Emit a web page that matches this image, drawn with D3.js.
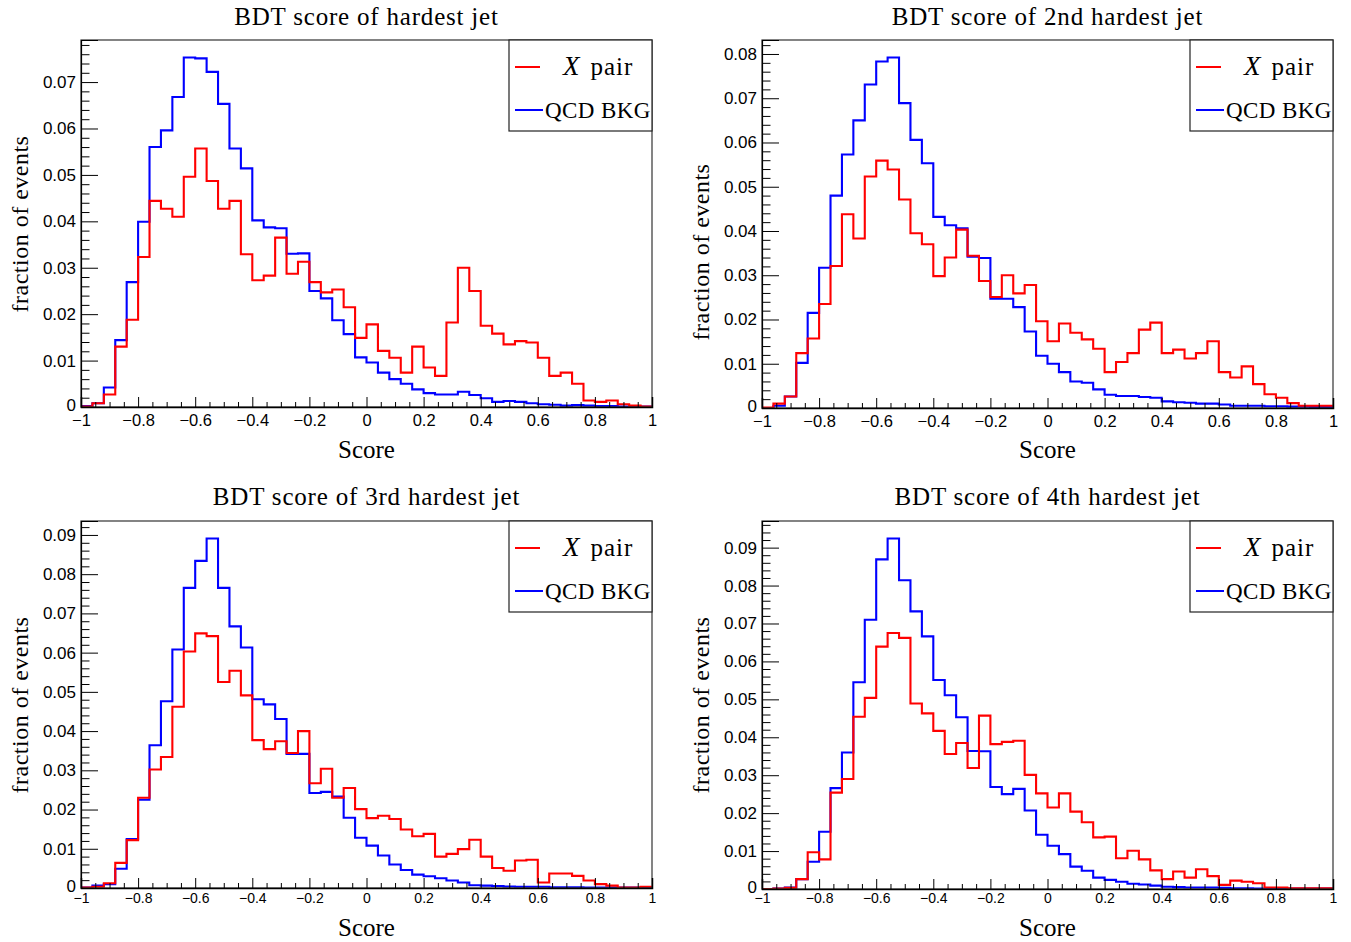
<!DOCTYPE html>
<html>
<head>
<meta charset="utf-8">
<script src="https://cdn.jsdelivr.net/npm/d3@7"></script>
<style>
  body { margin: 0; background: #fff; }
  svg { display: block; }
</style>
</head>
<body>
<svg id="chart" width="1351" height="942"></svg>
<script>
// ---- Data: BDT score histograms, 50 bins over [-1, 1], normalised to unit area ----
const binCount = 50;
const scoreRange = [-1, 1];
const xMajorTicks = [-1, -0.8, -0.6, -0.4, -0.2, 0, 0.2, 0.4, 0.6, 0.8, 1];
const seriesLabels = ["pair", "QCD BKG"];
const panelTitles = [
  "BDT score of hardest jet",
  "BDT score of 2nd hardest jet",
  "BDT score of 3rd hardest jet",
  "BDT score of 4th hardest jet"
];
const xAxisTitle = "Score";
const yAxisTitle = "fraction of events";

const xPairJet1 = [
  0.0001, 0.0008, 0.0027, 0.0130, 0.0188, 0.0323, 0.0444, 0.0427, 0.0410, 0.0496,
  0.0557, 0.0487, 0.0427, 0.0444, 0.0329, 0.0273, 0.0283, 0.0365, 0.0287, 0.0313,
  0.0269, 0.0247, 0.0253, 0.0215, 0.0149, 0.0178, 0.0121, 0.0106, 0.0074, 0.0130,
  0.0085, 0.0067, 0.0182, 0.0300, 0.0250, 0.0175, 0.0158, 0.0135, 0.0142, 0.0139,
  0.0106, 0.0067, 0.0074, 0.0050, 0.0014, 0.0011, 0.0014, 0.0006, 0.0003, 0.0001
];
const qcdJet1 = [
  0.0002, 0.0008, 0.0042, 0.0144, 0.0269, 0.0399, 0.0560, 0.0596, 0.0668, 0.0753,
  0.0751, 0.0722, 0.0653, 0.0557, 0.0514, 0.0402, 0.0387, 0.0385, 0.0330, 0.0331,
  0.0250, 0.0234, 0.0187, 0.0157, 0.0107, 0.0096, 0.0074, 0.0060, 0.0050, 0.0038,
  0.0030, 0.0027, 0.0027, 0.0033, 0.0026, 0.0019, 0.0011, 0.0013, 0.0011, 0.0008,
  0.0006, 0.0005, 0.0003, 0.0004, 0.0003, 0.0002, 0.0002, 0.0001, 0.0001, 0.0001
];

const xPairJet2 = [
  0.0001, 0.0010, 0.0026, 0.0124, 0.0157, 0.0235, 0.0321, 0.0438, 0.0383, 0.0523,
  0.0559, 0.0539, 0.0471, 0.0395, 0.0370, 0.0298, 0.0340, 0.0403, 0.0344, 0.0287,
  0.0251, 0.0300, 0.0259, 0.0278, 0.0196, 0.0151, 0.0191, 0.0170, 0.0155, 0.0134,
  0.0081, 0.0104, 0.0124, 0.0177, 0.0193, 0.0124, 0.0132, 0.0112, 0.0124, 0.0151,
  0.0081, 0.0069, 0.0094, 0.0054, 0.0031, 0.0023, 0.0011, 0.0005, 0.0005, 0.0005
];
const qcdJet2 = [
  0.0000, 0.0005, 0.0026, 0.0102, 0.0215, 0.0317, 0.0480, 0.0573, 0.0650, 0.0731,
  0.0783, 0.0792, 0.0689, 0.0606, 0.0553, 0.0432, 0.0413, 0.0406, 0.0342, 0.0339,
  0.0247, 0.0247, 0.0228, 0.0173, 0.0118, 0.0100, 0.0081, 0.0060, 0.0057, 0.0042,
  0.0030, 0.0027, 0.0027, 0.0025, 0.0023, 0.0015, 0.0013, 0.0012, 0.0010, 0.0010,
  0.0008, 0.0005, 0.0005, 0.0005, 0.0004, 0.0004, 0.0003, 0.0003, 0.0002, 0.0002
];

const xPairJet3 = [
  0.0001, 0.0003, 0.0012, 0.0064, 0.0122, 0.0230, 0.0302, 0.0334, 0.0462, 0.0603,
  0.0649, 0.0642, 0.0525, 0.0554, 0.0491, 0.0377, 0.0354, 0.0374, 0.0344, 0.0400,
  0.0267, 0.0304, 0.0230, 0.0255, 0.0201, 0.0178, 0.0184, 0.0176, 0.0149, 0.0132,
  0.0138, 0.0080, 0.0087, 0.0099, 0.0123, 0.0080, 0.0051, 0.0044, 0.0070, 0.0072,
  0.0014, 0.0037, 0.0037, 0.0031, 0.0019, 0.0010, 0.0006, 0.0001, 0.0001, 0.0003
];
const qcdJet3 = [
  0.0001, 0.0006, 0.0010, 0.0049, 0.0125, 0.0225, 0.0364, 0.0476, 0.0608, 0.0765,
  0.0834, 0.0891, 0.0765, 0.0667, 0.0613, 0.0481, 0.0468, 0.0431, 0.0342, 0.0342,
  0.0242, 0.0245, 0.0233, 0.0179, 0.0128, 0.0108, 0.0083, 0.0060, 0.0046, 0.0034,
  0.0030, 0.0025, 0.0019, 0.0014, 0.0007, 0.0006, 0.0005, 0.0004, 0.0003, 0.0003,
  0.0003, 0.0002, 0.0002, 0.0002, 0.0001, 0.0001, 0.0001, 0.0001, 0.0001, 0.0001
];

const xPairJet4 = [
  0.0000, 0.0001, 0.0003, 0.0026, 0.0097, 0.0078, 0.0254, 0.0290, 0.0454, 0.0504,
  0.0639, 0.0675, 0.0662, 0.0489, 0.0463, 0.0417, 0.0356, 0.0385, 0.0319, 0.0457,
  0.0382, 0.0388, 0.0391, 0.0301, 0.0252, 0.0215, 0.0252, 0.0204, 0.0176, 0.0136,
  0.0138, 0.0081, 0.0101, 0.0078, 0.0049, 0.0026, 0.0046, 0.0030, 0.0052, 0.0034,
  0.0011, 0.0022, 0.0019, 0.0015, 0.0004, 0.0004, 0.0002, 0.0002, 0.0002, 0.0002
];
const qcdJet4 = [
  0.0000, 0.0001, 0.0004, 0.0026, 0.0072, 0.0151, 0.0266, 0.0360, 0.0545, 0.0710,
  0.0869, 0.0924, 0.0814, 0.0732, 0.0666, 0.0551, 0.0511, 0.0453, 0.0364, 0.0363,
  0.0269, 0.0250, 0.0264, 0.0207, 0.0143, 0.0114, 0.0092, 0.0059, 0.0048, 0.0030,
  0.0024, 0.0019, 0.0014, 0.0012, 0.0009, 0.0006, 0.0005, 0.0004, 0.0004, 0.0004,
  0.0003, 0.0002, 0.0002, 0.0001, 0.0001, 0.0001, 0.0001, 0.0001, 0.0001, 0.0001
];

const signalSeries = [xPairJet1, xPairJet2, xPairJet3, xPairJet4];
const backgroundSeries = [qcdJet1, qcdJet2, qcdJet3, qcdJet4];

// ---- Layout (pixel frames of the four pads) ----
const frames = [
  { left: 81,  right: 652,  top: 40,  bottom: 407, xTickFont: 16.5, yTitleY: 224, titleDy: -15, xTitleDy: 51, xLabelDy: 7 },
  { left: 762, right: 1333, top: 40,  bottom: 408, xTickFont: 16.5, yTitleY: 252, titleDy: -15, xTitleDy: 50, xLabelDy: 7 },
  { left: 81,  right: 652,  top: 521, bottom: 888, xTickFont: 14, yTitleY: 705, titleDy: -16, xTitleDy: 48, xLabelDy: 5 },
  { left: 762, right: 1333, top: 521, bottom: 889, xTickFont: 14, yTitleY: 705, titleDy: -16, xTitleDy: 47, xLabelDy: 4 }
];

const RED = "#ff0000";
const BLUE = "#0000ff";
const SERIF = "'Liberation Serif', 'Times New Roman', serif";
const SANS = "'Liberation Sans', Arial, Helvetica, sans-serif";

const svg = d3.select("#chart");
svg.append("rect").attr("width", 1351).attr("height", 942).attr("fill", "#fff");

const binWidth = (scoreRange[1] - scoreRange[0]) / binCount;
const binEdges = d3.range(binCount + 1).map(i => scoreRange[0] + i * binWidth);

function stepPoints(values) {
  const pts = values.map((v, i) => [binEdges[i], v]);
  pts.push([binEdges[binCount], values[binCount - 1]]);
  return pts;
}

frames.forEach((f, p) => {
  const sig = signalSeries[p];
  const bkg = backgroundSeries[p];
  const yMax = 1.05 * d3.max([d3.max(sig), d3.max(bkg)]);

  const x = d3.scaleLinear().domain(scoreRange).range([f.left, f.right]);
  const y = d3.scaleLinear().domain([0, yMax]).range([f.bottom, f.top]);

  const g = svg.append("g");

  // histograms
  const line = d3.line()
    .x(d => x(d[0]))
    .y(d => y(d[1]))
    .curve(d3.curveStepAfter);

  g.append("path")
    .datum(stepPoints(bkg))
    .attr("d", line)
    .attr("fill", "none")
    .attr("stroke", BLUE)
    .attr("stroke-width", 2.1);

  g.append("path")
    .datum(stepPoints(sig))
    .attr("d", line)
    .attr("fill", "none")
    .attr("stroke", RED)
    .attr("stroke-width", 2.1);

  // frame
  g.append("rect")
    .attr("x", f.left).attr("y", f.top)
    .attr("width", f.right - f.left).attr("height", f.bottom - f.top)
    .attr("fill", "none").attr("stroke", "#333").attr("stroke-width", 1.2);

  // x axis: major ticks with labels, minor ticks every 0.05
  const xFmt = d3.format(".1~f");
  const xAxis = g.append("g")
    .attr("transform", `translate(0,${f.bottom})`)
    .call(d3.axisBottom(x).tickValues(xMajorTicks).tickSize(-10).tickPadding(f.xLabelDy).tickFormat(xFmt));
  xAxis.select(".domain").attr("stroke", "#000").attr("stroke-width", 1.5);
  xAxis.selectAll(".tick line").attr("stroke", "#000");
  xAxis.selectAll(".tick text")
    .attr("font-family", SANS).attr("font-size", f.xTickFont).attr("fill", "#000");

  const xMinor = d3.range(-1, 1.0001, 0.05).filter(v => Math.abs(Math.round(v * 5) - v * 5) > 1e-6);
  g.append("g")
    .attr("transform", `translate(0,${f.bottom})`)
    .call(d3.axisBottom(x).tickValues(xMinor).tickSize(-5).tickFormat(""))
    .call(s => s.select(".domain").remove())
    .selectAll(".tick line").attr("stroke", "#000");

  // y axis: major ticks every 0.01, minor every 0.002
  const yMajor = d3.range(0, yMax + 1e-9, 0.01).map(v => +v.toFixed(2));
  const yFmt = v => v === 0 ? "0" : d3.format(".2f")(v);
  const yAxis = g.append("g")
    .attr("transform", `translate(${f.left},0)`)
    .call(d3.axisLeft(y).tickValues(yMajor).tickSize(-17).tickPadding(5).tickFormat(yFmt));
  yAxis.select(".domain").attr("stroke", "#000").attr("stroke-width", 1.2);
  yAxis.selectAll(".tick line").attr("stroke", "#000");
  yAxis.selectAll(".tick text")
    .attr("font-family", SANS).attr("font-size", 17).attr("fill", "#000");
  // lift the zero label slightly so it clears the first x label
  yAxis.selectAll(".tick text").filter(d => d === 0).attr("dy", "0.2em");

  const yMinor = d3.range(0, yMax, 0.002)
    .map(v => +v.toFixed(3))
    .filter(v => Math.abs(Math.round(v * 100) - v * 100) > 1e-6);
  g.append("g")
    .attr("transform", `translate(${f.left},0)`)
    .call(d3.axisLeft(y).tickValues(yMinor).tickSize(-8.5).tickFormat(""))
    .call(s => s.select(".domain").remove())
    .selectAll(".tick line").attr("stroke", "#000");

  // titles
  const cx = (f.left + f.right) / 2;
  g.append("text")
    .attr("x", cx).attr("y", f.top + f.titleDy)
    .attr("text-anchor", "middle")
    .attr("font-family", SERIF).attr("font-size", 25)
    .attr("letter-spacing", "0.8px")
    .text(panelTitles[p]);

  g.append("text")
    .attr("x", cx).attr("y", f.bottom + f.xTitleDy)
    .attr("text-anchor", "middle")
    .attr("font-family", SERIF).attr("font-size", 25)
    .text(xAxisTitle);

  g.append("text")
    .attr("transform", `translate(${f.left - 53},${f.yTitleY}) rotate(-90)`)
    .attr("text-anchor", "middle")
    .attr("font-family", SERIF).attr("font-size", 24)
    .attr("letter-spacing", "0.5px")
    .text(yAxisTitle);

  // legend
  const boxW = 143, boxH = 91;
  const bx = f.right - boxW, by = f.top;
  const lg = g.append("g");
  lg.append("rect")
    .attr("x", bx).attr("y", by).attr("width", boxW).attr("height", boxH)
    .attr("fill", "#fff").attr("stroke", "#222").attr("stroke-width", 1.2);

  const rows = [
    { color: RED, dy: 27 },
    { color: BLUE, dy: 70 }
  ];
  rows.forEach((r, i) => {
    lg.append("line")
      .attr("x1", bx + 6).attr("x2", bx + (i === 0 ? 31 : 34))
      .attr("y1", by + r.dy).attr("y2", by + r.dy)
      .attr("stroke", r.color).attr("stroke-width", 2);
  });

  const t1 = lg.append("text")
    .attr("x", bx + 54).attr("y", by + 27 + 8)
    .attr("font-family", SERIF).attr("font-size", 25);
  t1.append("tspan").attr("font-style", "italic").attr("font-size", 27).text("X");
  t1.append("tspan").attr("dx", 11).attr("letter-spacing", "1px").text(seriesLabels[0]);

  lg.append("text")
    .attr("x", bx + 36).attr("y", by + 70 + 8)
    .attr("font-family", SERIF).attr("font-size", 23)
    .attr("letter-spacing", "0.4px")
    .text(seriesLabels[1]);
});
</script>
</body>
</html>
